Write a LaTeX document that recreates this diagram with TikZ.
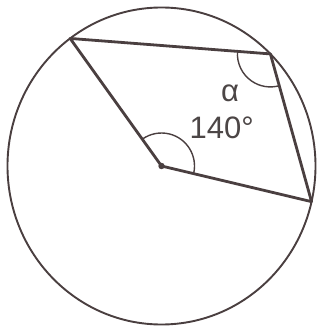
\documentclass[tikz,border=0pt]{standalone}
\usepackage{fontspec}
\setmainfont{Liberation Sans}
\definecolor{ink}{HTML}{4A3F40}
\definecolor{txt}{HTML}{4C4646}
\begin{document}
\begin{tikzpicture}[x=1pt,y=1pt,
  rim/.style={draw=ink,line width=1.9pt},
  chord/.style={draw=ink,line width=2.8pt,line join=round,line cap=round},
  anglemark/.style={draw=ink,line width=1.4pt},
  lbl/.style={text=txt,inner sep=0pt,anchor=base,font=\fontsize{31}{31}\selectfont}]
\useasboundingbox (-161.5,-166) rectangle (160.5,166);
\fill[white] (-161.5,-166) rectangle (160.5,166);
\coordinate (O) at (0,0);
\coordinate (A) at (126.4:154 and 158.5);
\coordinate (B) at (45:154 and 158.5);
\coordinate (C) at (-13:154 and 158.5);
\draw[rim] (O) ellipse [x radius=154, y radius=158.5];
\draw[chord] (C) -- (O) -- (A) -- (B) -- (C);
\fill[ink] (O) circle (3.2);
\draw[anglemark] ([shift={(-13.4:33)}]O) arc[start angle=-13.4, end angle=125.6, radius=33];
\draw[anglemark] ([shift={(175.6:33)}]B) arc[start angle=175.6, end angle=285.6, radius=33];
\node[lbl] (alpha) at (68.5,64.3) {α};
\node[lbl] (ang) at (60.2,27.7) {140°};
\end{tikzpicture}
\end{document}
